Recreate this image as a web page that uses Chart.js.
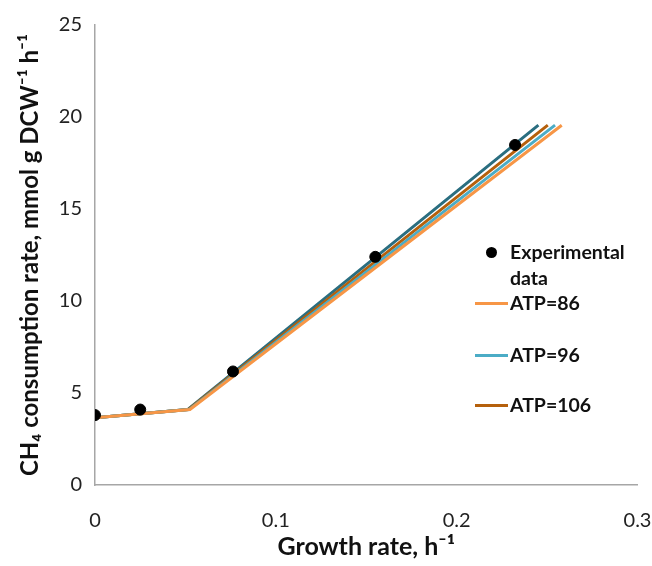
<!DOCTYPE html>
<html>
<head>
<meta charset="utf-8">
<script src="https://cdn.jsdelivr.net/npm/chart.js@4"></script>
<style>
  body { margin: 0; background: #fff; }
  #wrap { position: relative; width: 652px; height: 566px; }
  #legend { position: absolute; left: 475px; top: 239px; font-family: Lato, "Open Sans", sans-serif; font-weight: bold; font-size: 19.5px; color: #111; }
  .item { position: absolute; left: 0; white-space: nowrap; line-height: 26px; }
  .dot { position: absolute; left: 10.5px; top: 7.5px; width: 11px; height: 11px; border-radius: 50%; background: #000; }
  .seg { position: absolute; left: 0; top: 12px; width: 33px; height: 3px; }
  .txt { position: absolute; left: 35px; top: 0; }
</style>
</head>
<body>
<div id="wrap">
  <canvas id="chart" width="652" height="566"></canvas>
  <div id="legend"></div>
</div>
<script>
// experimental points
const expX = [0, 0.025, 0.0763, 0.155, 0.2323];
const expY = [3.8, 4.1, 6.17, 12.4, 18.48];

// model lines (start, kink, end)
const atp86X = [0, 0.0525, 0.2581];
const atp86Y = [3.65, 4.1, 19.55];
const atp96X = [0, 0.052, 0.2544];
const atp96Y = [3.65, 4.1, 19.56];
const atp106X = [0, 0.0515, 0.2504];
const atp106Y = [3.65, 4.1, 19.56];
const atp116X = [0, 0.0512, 0.2452];
const atp116Y = [3.65, 4.1, 19.56];

const xTicks = [0, 0.1, 0.2, 0.3];
const yTicks = [0, 5, 10, 15, 20, 25];

function pts(xs, ys) {
    return xs.map((x, i) => ({ x: x, y: ys[i] }));
}

function lineSet(label, xs, ys, color, inLegend) {
    return {
        type: "line",
        label: label,
        data: pts(xs, ys),
        borderColor: color,
        backgroundColor: color,
        borderWidth: 3,
        pointRadius: 0,
        fill: false,
        inLegend: inLegend,
    };
}

const datasets = [
    {
        type: "scatter",
        label: "Experimental data",
        data: pts(expX, expY),
        backgroundColor: "#000",
        borderColor: "#000",
        pointRadius: 5.5,
        showLine: false,
        order: 0,
        inLegend: true,
    },
    lineSet("ATP=86", atp86X, atp86Y, "#f79646", true),
    lineSet("ATP=96", atp96X, atp96Y, "#4bacc6", true),
    lineSet("ATP=106", atp106X, atp106Y, "#b5600c", true),
    lineSet("ATP=116", atp116X, atp116Y, "#2a6e80", false),
];

const font = "Lato, 'Open Sans', sans-serif";

new Chart(document.getElementById("chart"), {
    type: "scatter",
    data: { datasets: datasets },
    options: {
        responsive: false,
        animation: false,
        layout: { padding: { top: 12, right: 0, left: 0, bottom: 0 } },
        plugins: { legend: { display: false }, tooltip: { enabled: false } },
        scales: {
            x: {
                type: "linear",
                min: 0,
                max: 0.3,
                grid: { display: false, drawTicks: false },
                border: { display: true, color: "#a6a6a6", width: 1.5 },
                afterBuildTicks: (s) => { s.ticks = xTicks.map(v => ({ value: v })); },
                afterFit: (s) => { s.height = 81; s.paddingRight = 14.5; s.paddingLeft = 0; },
                ticks: { padding: 24, color: "#222", font: { family: font, size: 20 },
                    callback: (v) => String(v) },
                title: { display: true, text: "Growth rate, h\u207B\u00B9", color: "#111",
                    font: { family: font, size: 25, weight: "bold" }, padding: { top: 0, bottom: 4 } },
            },
            y: {
                type: "linear",
                min: 0,
                max: 25,
                grid: { display: false, drawTicks: false },
                border: { display: true, color: "#a6a6a6", width: 1.5 },
                afterBuildTicks: (s) => { s.ticks = yTicks.map(v => ({ value: v })); },
                afterFit: (s) => { s.width = 95; },
                ticks: { padding: 13, color: "#222", font: { family: font, size: 20 } },
                title: { display: true, text: "CH\u2084 consumption rate, mmol g DCW\u207B\u00B9 h\u207B\u00B9", color: "#111",
                    font: { family: font, size: 24, weight: "bold" }, padding: { top: 16, bottom: 0 } },
            },
        },
    },
});

// legend overlay, built from the datasets
const legend = document.getElementById("legend");
const rows = [0, 51, 103, 153];
datasets.filter(d => d.inLegend).forEach((d, i) => {
    const item = document.createElement("div");
    item.className = "item";
    item.style.top = rows[i] + "px";
    const mark = document.createElement("div");
    if (d.type === "scatter") {
        mark.className = "dot";
    } else {
        mark.className = "seg";
        mark.style.background = d.borderColor;
    }
    const txt = document.createElement("div");
    txt.className = "txt";
    txt.innerHTML = d.label === "Experimental data" ? "Experimental<br>data" : d.label;
    item.appendChild(mark);
    item.appendChild(txt);
    legend.appendChild(item);
});
</script>
</body>
</html>
